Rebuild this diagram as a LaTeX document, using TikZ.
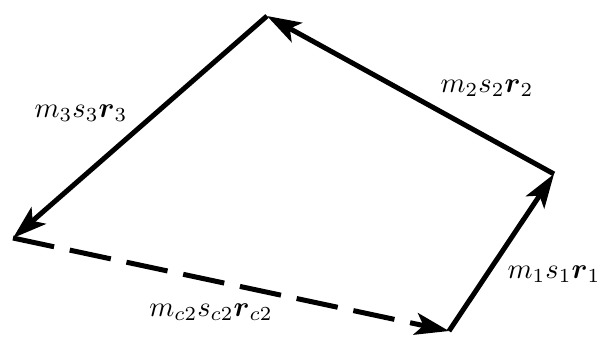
\documentclass[tikz,border=0pt]{standalone}
\usepackage{amsmath}
\usetikzlibrary{arrows.meta}
\newcommand{\biglbl}[1]{\scalebox{2.85}{$#1$}}
\begin{document}
\begin{tikzpicture}[x=1pt,y=-1pt,
  vec/.style={line width=5pt,-{Stealth[length=34pt,width=22pt,inset=8pt]}},
  dvec/.style={vec,dash pattern=on 42pt off 16pt},
  lbl/.style={inner sep=0pt}]
\useasboundingbox (0,0) rectangle (601,338);
\coordinate (A) at (13,238);
\coordinate (B) at (449,331);
\coordinate (C) at (554,174);
\coordinate (D) at (267,16);
\draw[vec] (B) -- (C);
\draw[vec] (C) -- (D);
\draw[vec] (D) -- (A);
\draw[dvec] (A) -- (B);
\node[lbl] (l1) at (554,274) {\biglbl{m_1s_1\boldsymbol{r}_1}};
\node[lbl] (l2) at (487,88) {\biglbl{m_2s_2\boldsymbol{r}_2}};
\node[lbl] (l3) at (81,113) {\biglbl{m_3s_3\boldsymbol{r}_3}};
\node[lbl] (lc) at (211,312) {\biglbl{m_{c2}s_{c2}\boldsymbol{r}_{c2}}};
\end{tikzpicture}
\end{document}
